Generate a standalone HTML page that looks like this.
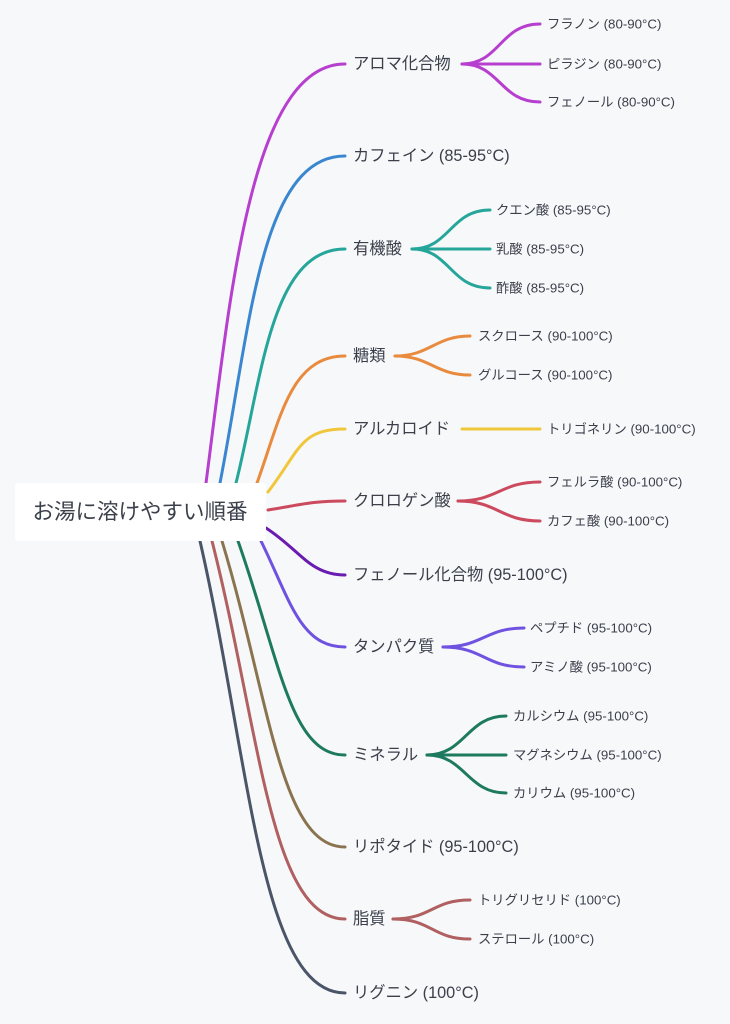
<!DOCTYPE html>
<html><head><meta charset="utf-8"><style>
html,body{margin:0;padding:0;background:#f7f8fa;}
svg{display:block;}
text{font-family:"Liberation Sans","Noto Sans CJK JP",sans-serif;fill:#3a3f4a;dominant-baseline:central;}
.b{font-size:16.3px;}
.c{font-size:13.3px;}
path{fill:none;stroke-width:3;stroke-linecap:round;}
</style></head><body>
<svg width="730" height="1024" viewBox="0 0 730 1024" xmlns="http://www.w3.org/2000/svg">
<rect x="0" y="0" width="730" height="1024" fill="#f7f8fa"/>
<path stroke="#b73fcf" d="M206 483 C230 300,250 64,345 64"/>
<path stroke="#3b87cf" d="M220 483 C250 330,260 156,345 156"/>
<path stroke="#26a69a" d="M236 483 C262 380,270 249,345 249"/>
<path stroke="#e88b3e" d="M257 483 C280 420,290 356,345 356"/>
<path stroke="#f0c73a" d="M268 492 C300 450,300 429,345 429"/>
<path stroke="#cc4a5e" d="M268 510 C300 505,310 501,345 501"/>
<path stroke="#6a1bb0" d="M266 528 C300 550,310 575,345 575"/>
<path stroke="#7052e0" d="M261 541 C290 600,300 647,345 647"/>
<path stroke="#1e7a5e" d="M238 541 C280 660,290 755,345 755"/>
<path stroke="#8a7450" d="M222 541 C270 700,280 847,345 847"/>
<path stroke="#b06060" d="M212 541 C260 730,270 919,345 919"/>
<path stroke="#4a5568" d="M200 541 C250 760,260 993,345 993"/>
<rect x="15" y="483" width="251" height="58" rx="4" fill="#ffffff"/>
<text x="140" y="512" font-size="21.5" text-anchor="middle">お湯に溶けやすい順番</text>
<text class="b" x="353" y="64">アロマ化合物</text>
<text class="b" x="353" y="156">カフェイン (85-95°C)</text>
<text class="b" x="353" y="249">有機酸</text>
<text class="b" x="353" y="356">糖類</text>
<text class="b" x="353" y="429">アルカロイド</text>
<text class="b" x="353" y="501">クロロゲン酸</text>
<text class="b" x="353" y="575">フェノール化合物 (95-100°C)</text>
<text class="b" x="353" y="647">タンパク質</text>
<text class="b" x="353" y="755">ミネラル</text>
<text class="b" x="353" y="847">リポタイド (95-100°C)</text>
<text class="b" x="353" y="919">脂質</text>
<text class="b" x="353" y="993">リグニン (100°C)</text>
<g stroke="#b73fcf">
<path d="M462 64 C500 64,500 24,540 24"/><path d="M462 64 L540 64"/><path d="M462 64 C500 64,500 102,540 102"/>
</g>
<text class="c" x="547" y="24">フラノン (80-90°C)</text>
<text class="c" x="547" y="64">ピラジン (80-90°C)</text>
<text class="c" x="547" y="102">フェノール (80-90°C)</text>
<g stroke="#26a69a">
<path d="M412 249 C450 249,450 210,490 210"/><path d="M412 249 L490 249"/><path d="M412 249 C450 249,450 288,490 288"/>
</g>
<text class="c" x="496" y="210">クエン酸 (85-95°C)</text>
<text class="c" x="496" y="249">乳酸 (85-95°C)</text>
<text class="c" x="496" y="288">酢酸 (85-95°C)</text>
<g stroke="#e88b3e">
<path d="M395 356 C430 356,435 336,470 336"/><path d="M395 356 C430 356,435 375,470 375"/>
</g>
<text class="c" x="478" y="336">スクロース (90-100°C)</text>
<text class="c" x="478" y="375">グルコース (90-100°C)</text>
<path stroke="#f0c73a" d="M462 429 L540 429"/>
<text class="c" x="547" y="429">トリゴネリン (90-100°C)</text>
<g stroke="#cc4a5e">
<path d="M458 501 C498 501,500 482,540 482"/><path d="M458 501 C498 501,500 521,540 521"/>
</g>
<text class="c" x="547" y="482">フェルラ酸 (90-100°C)</text>
<text class="c" x="547" y="521">カフェ酸 (90-100°C)</text>
<g stroke="#7052e0">
<path d="M443 647 C483 647,485 628,524 628"/><path d="M443 647 C483 647,485 667,524 667"/>
</g>
<text class="c" x="530" y="628">ペプチド (95-100°C)</text>
<text class="c" x="530" y="667">アミノ酸 (95-100°C)</text>
<g stroke="#1e7a5e">
<path d="M427 755 C465 755,467 716,506 716"/><path d="M427 755 L506 755"/><path d="M427 755 C465 755,467 793,506 793"/>
</g>
<text class="c" x="513" y="716">カルシウム (95-100°C)</text>
<text class="c" x="513" y="755">マグネシウム (95-100°C)</text>
<text class="c" x="513" y="793">カリウム (95-100°C)</text>
<g stroke="#b06060">
<path d="M393 919 C432 919,432 900,470 900"/><path d="M393 919 C432 919,432 939,470 939"/>
</g>
<text class="c" x="478" y="900">トリグリセリド (100°C)</text>
<text class="c" x="478" y="939">ステロール (100°C)</text>
</svg>
</body></html>
